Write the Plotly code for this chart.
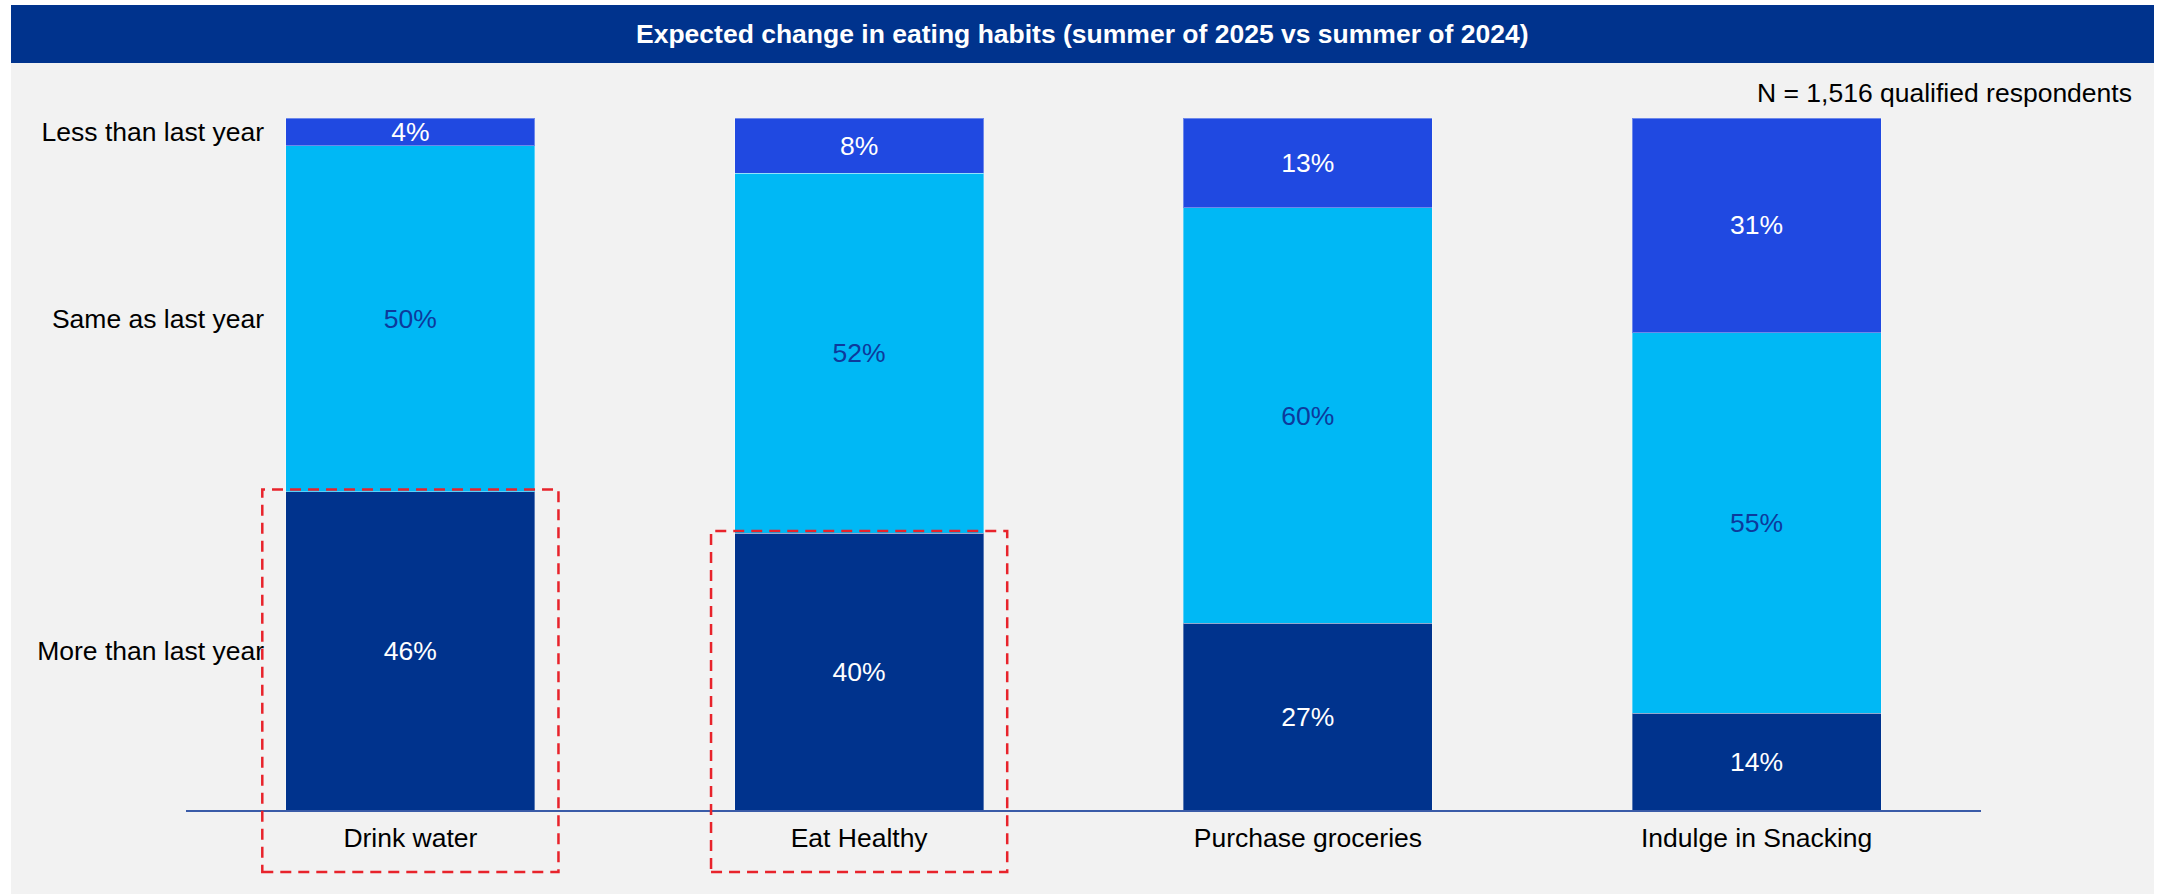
import plotly.graph_objects as go

# Survey data: expected change in eating habits, share of respondents (%)
categories = ["Drink water", "Eat Healthy", "Purchase groceries", "Indulge in Snacking"]
more_than_last_year = [46, 40, 27, 14]
same_as_last_year = [50, 52, 60, 55]
less_than_last_year = [4, 8, 13, 31]
series_names = ["More than last year", "Same as last year", "Less than last year"]
highlighted = ["Drink water", "Eat Healthy"]
sample_note = "N = 1,516 qualified respondents"
title_text = "Expected change in eating habits (summer of 2025 vs summer of 2024)"

NAVY = "#00338D"
SKY = "#00B8F5"
ROYAL = "#2049E1"
FONT = "Liberation Sans, Arial, sans-serif"
FS = 26.5

W, H = 2158, 894
ML, MR, MT, MB = 186, 177, 118, 84
plot_w = W - ML - MR
plot_h = H - MT - MB
Y_MAX = 100


def px_to_paper_x(px):
    return (px - ML) / plot_w


def px_to_paper_y(py):
    return (H - MB - py) / plot_h


series = [
    (series_names[0], more_than_last_year, NAVY, "white"),
    (series_names[1], same_as_last_year, SKY, "#0D3A9C"),
    (series_names[2], less_than_last_year, ROYAL, "white"),
]

fig = go.Figure()
for name, vals, color, txtcolor in series:
    fig.add_trace(go.Bar(
        x=categories,
        y=vals,
        name=name,
        marker=dict(color=color, line=dict(color="rgba(255,255,255,0.35)", width=1)),
        text=[f"{v}%" for v in vals],
        textposition="inside",
        insidetextanchor="middle",
        textangle=0,
        textfont=dict(family=FONT, size=FS, color=txtcolor),
        hoverinfo="skip",
    ))

# Row labels sit at the middle of each segment of the first column
first = [s[1][0] for s in series]
tick_vals, acc = [], 0
for v in first:
    tick_vals.append(acc + v / 2)
    acc += v

shapes = [
    # light panel behind the chart
    dict(type="rect", xref="paper", yref="paper", layer="below",
         x0=px_to_paper_x(11), x1=px_to_paper_x(2154),
         y0=px_to_paper_y(H), y1=px_to_paper_y(63),
         fillcolor="#F2F2F2", line=dict(width=0)),
    # header band
    dict(type="rect", xref="paper", yref="paper", layer="below",
         x0=px_to_paper_x(11), x1=px_to_paper_x(2154),
         y0=px_to_paper_y(63), y1=px_to_paper_y(5),
         fillcolor=NAVY, line=dict(width=0)),
]

# dashed call-out boxes around the "more than last year" segment of highlighted items;
# vertical extent in paper units so the box can reach below the category labels
for cat in highlighted:
    i = categories.index(cat)
    top = more_than_last_year[i]
    shapes.append(dict(
        type="rect", xref="x", yref="paper", layer="above",
        x0=i - 0.33, x1=i + 0.33,
        y0=px_to_paper_y(872), y1=(top + 0.3) / Y_MAX,
        line=dict(color="#E8232B", width=2.5, dash="11px,7px"),
        fillcolor="rgba(0,0,0,0)",
    ))

annotations = [
    dict(text=title_text, xref="paper", yref="paper",
         x=px_to_paper_x(1082), y=px_to_paper_y(34),
         xanchor="center", yanchor="middle", showarrow=False,
         font=dict(family=FONT, size=FS, color="white", weight="bold")),
    dict(text=sample_note, xref="paper", yref="paper",
         x=px_to_paper_x(2134), y=px_to_paper_y(93),
         xanchor="right", yanchor="middle", showarrow=False,
         font=dict(family=FONT, size=FS, color="black")),
]

fig.update_layout(
    width=W, height=H,
    barmode="stack",
    bargap=0.445,
    showlegend=False,
    paper_bgcolor="white",
    plot_bgcolor="rgba(0,0,0,0)",
    margin=dict(l=ML, r=MR, t=MT, b=MB, pad=0),
    uniformtext=dict(minsize=FS, mode="show"),
    shapes=shapes,
    annotations=annotations,
    xaxis=dict(
        type="category",
        range=[-0.5, len(categories) - 0.5],
        showline=True, linecolor="#3A5BA8", linewidth=2,
        showgrid=False, zeroline=False, ticks="",
        tickfont=dict(family=FONT, size=FS, color="black"),
        ticklabelstandoff=3,
    ),
    yaxis=dict(
        range=[0, Y_MAX],
        anchor="free",
        position=px_to_paper_x(264),
        showline=False, showgrid=False, zeroline=False, ticks="",
        tickvals=tick_vals,
        ticktext=series_names,
        tickfont=dict(family=FONT, size=FS, color="black"),
    ),
)

fig.write_html("out.html")
